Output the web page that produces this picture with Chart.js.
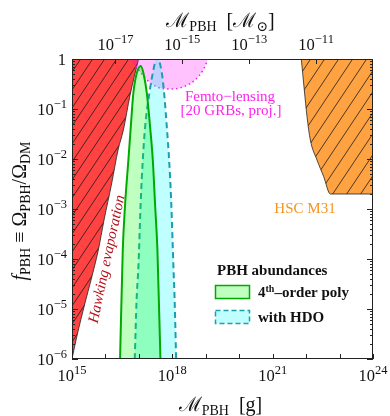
<!DOCTYPE html>
<html>
<head>
<meta charset="utf-8">
<script src="https://cdn.jsdelivr.net/npm/chart.js@4.4.1/dist/chart.umd.min.js"></script>
<style>
  html, body { margin: 0; padding: 0; background: #fff; }
  #wrap { width: 390px; height: 416px; }
</style>
</head>
<body>
<div id="wrap"><canvas id="c"></canvas></div>
<script>
// solar mass in grams (top axis)
const MSUN = 1.989e33;

// values, as log10(M/g) and log10(f)
const hawkingLogM = [15.0, 15.141, 15.389, 15.569, 15.787, 15.958, 16.189, 16.377, 16.536, 16.737, 16.991];
const hawkingLogF = [-6, -5.56, -4.88, -4.42, -3.82, -3.22, -2.48, -1.82, -1.42, -0.72, 0];

const hscLogM = [21.856, 21.946, 22.027, 22.126, 22.326, 22.524, 22.725, 24];
const hscLogF = [0, -0.62, -1.15, -1.62, -2.02, -2.35, -2.7, -2.7];

const femtoLogM = [16.74, 17.04, 17.34, 17.63, 17.93, 18.32, 18.68, 18.92, 19.07];
const femtoLogF = [0, -0.26, -0.48, -0.58, -0.6, -0.56, -0.42, -0.22, 0];

const polyLogM = [16.437, 16.518, 16.587, 16.686, 16.757, 16.835, 16.937, 17.057, 17.135, 17.237, 17.335, 17.416, 17.485, 17.554, 17.644];
const polyLogF = [-6, -3.82, -2.92, -2.02, -1.36, -0.68, -0.28, -0.14, -0.28, -0.68, -1.36, -2.02, -2.92, -3.82, -6];

const hdoLogM = [16.877, 16.931, 16.985, 17.057, 17.117, 17.186, 17.314, 17.434, 17.536, 17.686, 17.754, 17.835, 17.904, 17.964, 18.033, 18.069, 18.114];
const hdoLogF = [-6, -4.82, -4.16, -2.82, -2.02, -1.36, -0.68, -0.22, 0.04, -0.28, -0.68, -1.36, -2.02, -2.82, -4.16, -4.82, -6];

// ticks
const xTickExps = [15, 16, 17, 18, 19, 20, 21, 22, 23, 24];
const xLabelExps = [15, 18, 21, 24];
const topTickExps = [-17, -15, -13, -11];
const yTickExps = [0, -1, -2, -3, -4, -5, -6];

const SERIF = '"Liberation Serif", "DejaVu Serif", serif';

const pts = (ms, fs) => ms.map((m, i) => ({ x: Math.pow(10, m), y: Math.pow(10, fs[i]) }));

const canvas = document.getElementById("c");
const ctx0 = canvas.getContext("2d");

// diagonal hatch over a solid colour
function hatch(bg, w, h) {
  const t = document.createElement("canvas");
  t.width = w; t.height = h;
  const g = t.getContext("2d");
  g.fillStyle = bg;
  g.fillRect(0, 0, w, h);
  g.strokeStyle = "#1a1a1a";
  g.lineWidth = 0.8;
  g.beginPath();
  [-w, 0, w].forEach(o => { g.moveTo(o, h); g.lineTo(o + w, 0); });
  g.stroke();
  return ctx0.createPattern(t, "repeat");
}

// draw a run of text pieces [text, font, dy]
function rich(ctx, parts, x, y, align) {
  let w = 0;
  parts.forEach(p => { ctx.font = p[1]; w += ctx.measureText(p[0]).width; });
  let cx = align === "right" ? x - w : align === "center" ? x - w / 2 : x;
  ctx.textAlign = "left";
  ctx.textBaseline = "alphabetic";
  parts.forEach(p => {
    ctx.font = p[1];
    ctx.fillText(p[0], cx, y + (p[2] || 0));
    cx += ctx.measureText(p[0]).width;
  });
}

const expText = e => (e < 0 ? "\u2212" + Math.abs(e) : String(e));
const pow10 = e => [["10", "16.5px " + SERIF, 0], [expText(e), "12.5px " + SERIF, -7]];

const decor = {
  id: "decor",
  afterDatasetsDraw(chart) {
    const { ctx, chartArea: a, scales } = chart;
    const xs = scales.x, x2 = scales.x2, ys = scales.y;
    ctx.save();

    // frame
    ctx.strokeStyle = "#222";
    ctx.lineWidth = 1;
    ctx.strokeRect(a.left + 0.5, a.top + 0.5, a.right - a.left - 1, a.bottom - a.top - 1);

    // inward ticks
    ctx.beginPath();
    xTickExps.forEach(e => {
      const px = Math.round(xs.getPixelForValue(Math.pow(10, e))) + 0.5;
      ctx.moveTo(px, a.bottom); ctx.lineTo(px, a.bottom - 5);
    });
    topTickExps.forEach(e => {
      const px = Math.round(x2.getPixelForValue(Math.pow(10, e))) + 0.5;
      ctx.moveTo(px, a.top); ctx.lineTo(px, a.top + 5);
    });
    yTickExps.forEach(e => {
      const py = Math.round(ys.getPixelForValue(Math.pow(10, e))) + 0.5;
      ctx.moveTo(a.left, py); ctx.lineTo(a.left + 6, py);
      ctx.moveTo(a.right, py); ctx.lineTo(a.right - 6, py);
      if (e < 0) {
        for (let k = 2; k <= 9; k++) {
          const q = Math.round(ys.getPixelForValue(k * Math.pow(10, e))) + 0.5;
          ctx.moveTo(a.left, q); ctx.lineTo(a.left + 3, q);
          ctx.moveTo(a.right, q); ctx.lineTo(a.right - 3, q);
        }
      }
    });
    ctx.stroke();

    // tick labels
    ctx.fillStyle = "#111";
    xLabelExps.forEach(e => {
      rich(ctx, pow10(e), xs.getPixelForValue(Math.pow(10, e)), a.bottom + 22, "center");
    });
    topTickExps.forEach(e => {
      rich(ctx, pow10(e), x2.getPixelForValue(Math.pow(10, e)), a.top - 9, "center");
    });
    yTickExps.forEach(e => {
      const py = ys.getPixelForValue(Math.pow(10, e));
      if (e === 0) rich(ctx, [["1", "16.5px " + SERIF, 0]], a.left - 6, py + 6, "right");
      else rich(ctx, pow10(e), a.left - 5, py + 6, "right");
    });

    // axis titles
    const big = "20px " + SERIF, sub = "14px " + SERIF;
    const cxm = (a.left + a.right) / 2;
    rich(ctx, [["\u2133", big, 0], ["PBH", sub, 4], ["  [g]", big, 0]], cxm - 2, 411, "center");
    rich(ctx, [["\u2133", big, 0], ["PBH", sub, 4], ["  [", big, 0], ["\u2133", big, 0], ["\u2299", sub, 4], ["]", big, 0]], cxm - 2, 27, "center");
    ctx.save();
    ctx.translate(26, 211);
    ctx.rotate(-Math.PI / 2);
    rich(ctx, [["f", "italic 20px " + SERIF, 0], ["PBH", sub, 4], [" \u2261 \u03a9", big, 0], ["PBH", sub, 4], ["/\u03a9", big, 0], ["DM", sub, 4]], 0, 0, "center");
    ctx.restore();

    // region labels
    ctx.fillStyle = "#ff22ee";
    rich(ctx, [["Femto\u2212lensing", "15px " + SERIF, 0]], 230, 101, "center");
    rich(ctx, [["[20 GRBs, proj.]", "15px " + SERIF, 0]], 231, 115, "center");
    ctx.fillStyle = "#f7941d";
    rich(ctx, [["HSC M31", "15px " + SERIF, 0]], 305, 213, "center");
    ctx.save();
    ctx.translate(111, 260);
    ctx.rotate(-78 * Math.PI / 180);
    ctx.fillStyle = "#b5121b";
    rich(ctx, [["Hawking evaporation", "italic 15px " + SERIF, 0]], 0, 0, "center");
    ctx.restore();

    // legend
    const ds = chart.data.datasets;
    const poly = ds.find(d => d.key === "poly"), hdo = ds.find(d => d.key === "hdo");
    ctx.fillStyle = "#111";
    rich(ctx, [["PBH abundances", "bold 15px " + SERIF, 0]], 217, 275, "left");
    ctx.fillStyle = poly.backgroundColor;
    ctx.fillRect(215.5, 285.5, 34, 13);
    ctx.strokeStyle = poly.borderColor; ctx.lineWidth = 1.5;
    ctx.strokeRect(215.5, 285.5, 34, 13);
    ctx.fillStyle = hdo.backgroundColor;
    ctx.fillRect(215.5, 310.5, 34, 13);
    ctx.strokeStyle = hdo.borderColor; ctx.setLineDash([5, 3]);
    ctx.strokeRect(215.5, 310.5, 34, 13);
    ctx.setLineDash([]);
    ctx.fillStyle = "#111";
    rich(ctx, [["4", "bold 15px " + SERIF, 0], ["th", "bold 10px " + SERIF, -5], ["\u2013order poly", "bold 15px " + SERIF, 0]], 258, 297, "left");
    rich(ctx, [["with HDO", "bold 15px " + SERIF, 0]], 258, 322, "left");

    ctx.restore();
  }
};

const line = { pointRadius: 0, pointHoverRadius: 0, cubicInterpolationMode: "monotone" };

new Chart(canvas, {
  type: "line",
  data: {
    datasets: [
      Object.assign({ key: "poly", label: "4th-order poly", data: pts(polyLogM, polyLogF),
        borderColor: "#00aa00", borderWidth: 2, backgroundColor: "rgba(0,255,0,0.25)", fill: "start", order: 1 }, line),
      Object.assign({ key: "hdo", label: "with HDO", data: pts(hdoLogM, hdoLogF),
        borderColor: "#1a9fb0", borderWidth: 2, borderDash: [6, 4], backgroundColor: "rgba(0,255,255,0.25)", fill: "start", order: 2 }, line),
      Object.assign({ key: "femto", label: "Femto-lensing", data: pts(femtoLogM, femtoLogF),
        borderColor: "#ee22ee", borderWidth: 1.5, borderDash: [1.5, 3], backgroundColor: "rgba(255,0,255,0.24)", fill: "end", order: 3 }, line),
      Object.assign({ key: "hawking", label: "Hawking evaporation", data: pts(hawkingLogM, hawkingLogF),
        borderColor: "#222", borderWidth: 0.8, backgroundColor: hatch("#ff4242", 12, 18), fill: "end", order: 5 }, line),
      Object.assign({ key: "hsc", label: "HSC M31", data: pts(hscLogM, hscLogF),
        borderColor: "#222", borderWidth: 0.8, backgroundColor: hatch("#ffa342", 14, 21), fill: "end", order: 5 }, line)
    ]
  },
  options: {
    responsive: true,
    maintainAspectRatio: false,
    animation: false,
    devicePixelRatio: 1,
    layout: { padding: { right: 17 } },
    plugins: { legend: { display: false }, tooltip: { enabled: false } },
    scales: {
      x: {
        type: "logarithmic", position: "bottom", min: 1e15, max: 1e24,
        ticks: { display: false }, grid: { display: false }, border: { display: false },
        afterFit: s => { s.height = 57; }
      },
      x2: {
        type: "logarithmic", position: "top", min: 1e15 / MSUN, max: 1e24 / MSUN,
        ticks: { display: false }, grid: { display: false }, border: { display: false },
        afterFit: s => { s.height = 59; }
      },
      y: {
        type: "logarithmic", position: "left", min: 1e-6, max: 1,
        ticks: { display: false }, grid: { display: false }, border: { display: false },
        afterFit: s => { s.width = 72; }
      }
    }
  },
  plugins: [decor]
});
</script>
</body>
</html>
